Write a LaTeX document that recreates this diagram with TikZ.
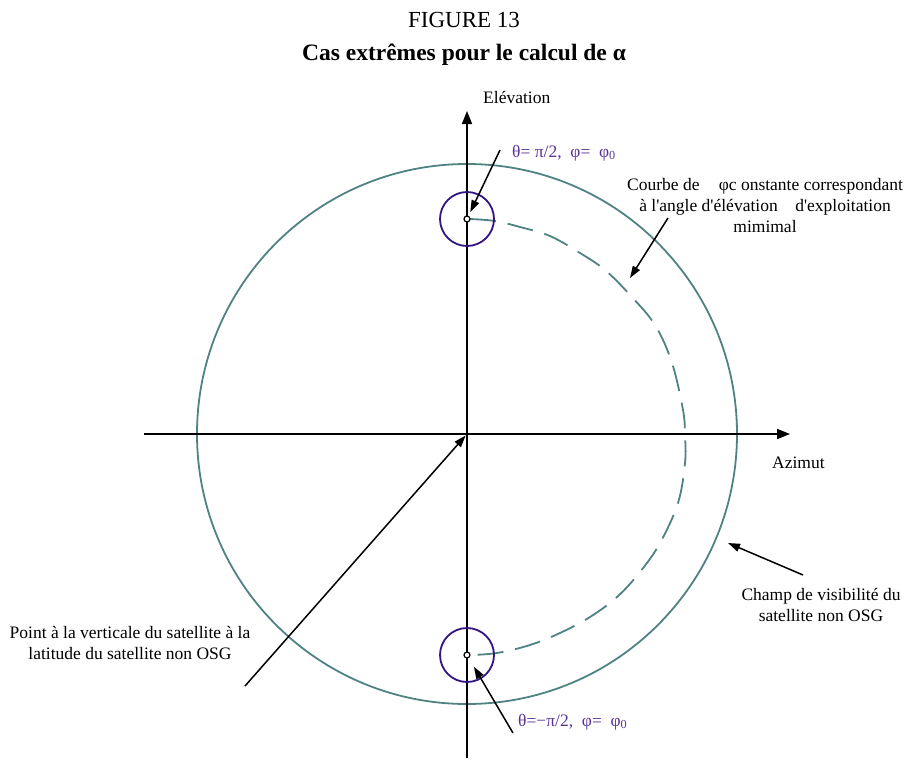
\documentclass[tikz,border=0pt]{standalone}
\usepackage{fontspec}
\setmainfont{Liberation Serif}
\usetikzlibrary{arrows.meta}
\definecolor{champ}{RGB}{80,130,130}
\definecolor{cercle}{RGB}{50,20,130}
\definecolor{etiq}{RGB}{90,50,150}
\begin{document}
\begin{tikzpicture}[
        x=1pt, y=-1pt,
        axe/.style={line width=1.6pt, -{Triangle[length=13pt,width=10pt]}},
        fleche/.style={line width=1.5pt, -{Triangle[length=12pt,width=8pt]}},
        etiquette/.style={font=\fontsize{17.5}{21}\selectfont, align=center, inner sep=0pt},
        angle/.style={etiquette, text=etiq},
        petit/.style={draw=cercle, line width=1.8pt, circle, minimum size=54pt, inner sep=0pt},
        point/.style={draw=black, fill=white, line width=1.2pt, circle, minimum size=6pt, inner sep=0pt}
    ]
    \useasboundingbox (0,0) rectangle (905,760);
    \node[font=\fontsize{23}{27}\selectfont, anchor=base] (fig) at (464,28) {FIGURE 13};
    \node[font=\bfseries\fontsize{23.5}{28}\selectfont, anchor=base] (titre) at (464,61) {Cas extrêmes pour le calcul de α};

    \coordinate (O) at (467,434);
    \node[circle, draw=champ, line width=1.8pt, minimum size=540pt, inner sep=0pt] (champ) at (O) {};
    \coordinate (bas) at (467,758);
    \coordinate (elev) at (467,111);
    \coordinate (gauche) at (144,434);
    \coordinate (azi) at (790,434);
    \draw[axe] (bas) -- (elev);
    \draw[axe] (gauche) -- (azi);

    \draw[champ, line width=1.8pt, dash pattern=on 26pt off 12pt] plot[smooth, tension=0.6] coordinates {
        (470,219) (495,221) (520,227) (550,236) (580,253) (605,270) (630,295)
        (655,325) (672,363) (683,410) (685,435) (685,463) (678,503) (660,543)
        (640,572) (617,597) (590,617) (560,633) (530,645) (497,653) (470,655)};

    \node[petit] (phiH) at (467,219) {};
    \node[petit] (phiB) at (467,655) {};
    \node[point] (ptH) at (467,219) {};
    \node[point] (ptB) at (467,655) {};

    \node[etiquette, anchor=base west] (lelev) at (483,103) {Elévation};
    \node[etiquette, anchor=base west] (lazi) at (772,468) {Azimut};
    \node[angle, anchor=base west] (lhaut) at (512,157) {θ= π/2,\enspace φ=\enspace φ\textsubscript{0}};
    \node[angle, anchor=base west] (lbas) at (518,726) {θ=−π/2,\enspace φ=\enspace φ\textsubscript{0}};
    \node[etiquette, anchor=north] (lcourbe) at (765,178) {Courbe de\hspace{1.1em}φc onstante correspondant\\à l\textquotesingle angle d\textquotesingle élévation\hspace{1em}d\textquotesingle exploitation\\mimimal};
    \node[etiquette, anchor=north] (lchamp) at (821,588) {Champ de visibilité du\\satellite non OSG};
    \node[etiquette, anchor=north] (lpoint) at (130,626) {Point à la verticale du satellite à la\\latitude du satellite non OSG};

    \coordinate (dH) at (500,150);
    \coordinate (dB) at (513,733);
    \coordinate (dC) at (668,218);
    \coordinate (fC) at (630,278);
    \coordinate (dV) at (803,575);
    \coordinate (fV) at (728,543);
    \coordinate (dP) at (245,686);
    \draw[fleche, shorten >=4pt] (dH) -- (ptH);
    \draw[fleche, shorten >=10pt] (dB) -- (ptB);
    \draw[fleche] (dC) -- (fC);
    \draw[fleche] (dV) -- (fV);
    \draw[fleche, shorten >=2pt] (dP) -- (O);
\end{tikzpicture}
\end{document}
